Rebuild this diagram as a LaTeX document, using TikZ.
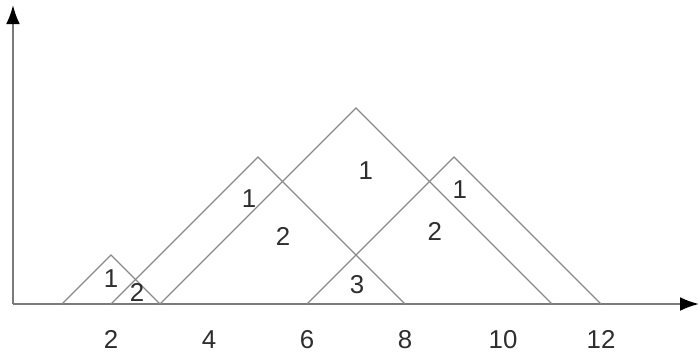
\documentclass[tikz,border=0pt]{standalone}
\usepackage{fontspec}
\setmainfont{Liberation Sans}
\usepackage{tikz}
\usetikzlibrary{arrows.meta}
\definecolor{linegrey}{HTML}{8A8A8A}
\definecolor{axisgrey}{HTML}{7A7A7A}
\definecolor{textgrey}{HTML}{2E2E2E}
\tikzset{
  tri/.style={draw=linegrey, line width=0.8pt, line join=miter},
  axis/.style={draw=axisgrey, line width=1.1pt, -{Latex[length=11pt,width=8pt,color=black]}},
  lbl/.style={text=textgrey, font=\fontsize{15}{18}\selectfont, inner sep=0pt}
}

\begin{document}
\begin{tikzpicture}
      \useasboundingbox (-0.265,-1.102) rectangle (14.02,6.204);

      % axes
      \coordinate (o) at (0,0);
      \coordinate (xend) at (14.0,0);
      \coordinate (yend) at (0,6.1);
      \draw [axis] (o) -- (xend);
      \draw [axis] (o) -- (yend);

      % triangles
      \draw [tri] (1,0) -- (2,1) -- (3,0);
      \draw [tri] (2,0) -- (5,3) -- (8,0);
      \draw [tri] (3,0) -- (7,4) -- (11,0);
      \draw [tri] (6,0) -- (9,3) -- (12,0);

      % region counts
      \node [lbl] (a1) at (2.0,0.52) {1};
      \node [lbl] (a2) at (2.53,0.24) {2};
      \node [lbl] (b1) at (4.82,2.16) {1};
      \node [lbl] (b2) at (5.51,1.37) {2};
      \node [lbl] (c1) at (7.2,2.73) {1};
      \node [lbl] (c3) at (7.02,0.40) {3};
      \node [lbl] (d1) at (9.12,2.33) {1};
      \node [lbl] (d2) at (8.61,1.47) {2};

      % tick labels
      \foreach \t in {2,4,...,12}
        \node [lbl] (tick\t) at (\t,-0.73) {\t};
\end{tikzpicture}
\end{document}
